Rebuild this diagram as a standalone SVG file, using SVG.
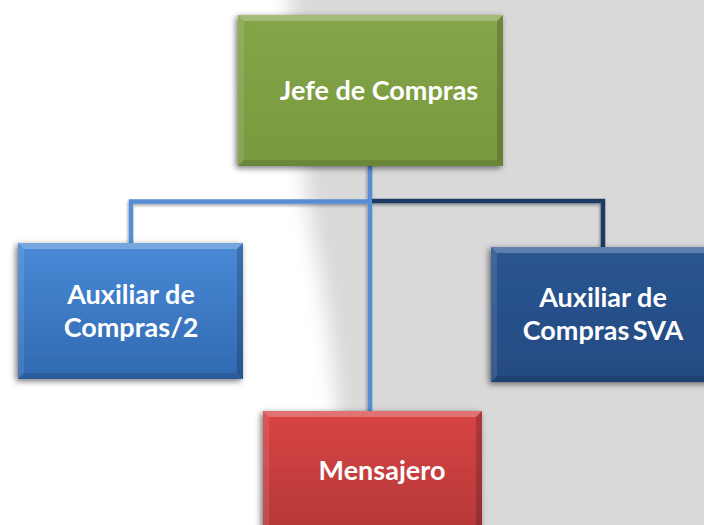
<svg xmlns="http://www.w3.org/2000/svg" width="704" height="525" viewBox="0 0 704 525">
<defs>
<filter id="bgblur" x="-20%" y="-20%" width="140%" height="140%"><feGaussianBlur stdDeviation="10"/></filter>
<filter id="shadow" x="-20%" y="-20%" width="140%" height="140%"><feDropShadow dx="-2" dy="2" stdDeviation="3" flood-color="#000" flood-opacity="0.55"/></filter>
<filter id="lshadow" x="-20%" y="-20%" width="140%" height="140%"><feDropShadow dx="-1" dy="2" stdDeviation="1.5" flood-color="#000" flood-opacity="0.35"/></filter>
<linearGradient id="gGreen" x1="0" y1="0" x2="0" y2="1"><stop offset="0" stop-color="#85a548"/><stop offset="1" stop-color="#79993f"/></linearGradient>
<linearGradient id="gBlue" x1="0" y1="0" x2="0" y2="1"><stop offset="0" stop-color="#4a8ad7"/><stop offset="1" stop-color="#3069b1"/></linearGradient>
<linearGradient id="gNavy" x1="0" y1="0" x2="0" y2="1"><stop offset="0" stop-color="#2a5590"/><stop offset="1" stop-color="#244b82"/></linearGradient>
<linearGradient id="gRed" x1="0" y1="0" x2="0" y2="1"><stop offset="0" stop-color="#d84444"/><stop offset="1" stop-color="#b33737"/></linearGradient>
</defs>
<style>
.lbl{font-family:Lato,"Open Sans","Liberation Sans",sans-serif;font-weight:700;font-size:27px;fill:#fff;text-anchor:middle}
.hl{fill:#fff;opacity:0.25}
.hl2{fill:#fff;opacity:0.1}
.dk{fill:#000;opacity:0.18}
.dk2{fill:#000;opacity:0.12}
.c{fill:none;stroke-width:4.5;stroke-linecap:butt;stroke-linejoin:miter}
</style>
<rect x="0" y="0" width="704" height="525" fill="#ffffff"/>
<path d="M288,-30 C294,90 302,180 316,250 C326,300 334,360 338,420 L342,560 L740,560 L740,-30 Z" fill="#d9d9d9" filter="url(#bgblur)"/>

<g id="connectors" filter="url(#lshadow)">
<path class="c" stroke="#558ed5" d="M370,166 V411"/>
<path class="c" stroke="#558ed5" d="M370,201.5 H131 V243"/>
<path class="c" stroke="#1f3b63" d="M372,201 H603 V247"/>
</g>

<g id="jefe">
<rect x="238" y="15" width="265" height="151" fill="url(#gGreen)" filter="url(#shadow)"/>
<polygon class="hl" points="238,15 503,15 497,21 244,21"/>
<polygon class="hl2" points="238,15 244,21 244,160 238,166"/>
<polygon class="dk" points="503,15 503,166 497,160 497,21"/>
<polygon class="dk2" points="238,166 244,160 497,160 503,166"/>
<text class="lbl" x="379" y="100">Jefe de Compras</text>
</g>

<g id="aux2">
<rect x="18" y="243" width="225" height="136" fill="url(#gBlue)" filter="url(#shadow)"/>
<polygon class="hl" points="18,243 243,243 237,249 24,249"/>
<polygon class="hl2" points="18,243 24,249 24,373 18,379"/>
<polygon class="dk" points="243,243 243,379 237,373 237,249"/>
<polygon class="dk2" points="18,379 24,373 237,373 243,379"/>
<text class="lbl" x="131" y="304">Auxiliar de</text>
<text class="lbl" x="131" y="337">Compras/2</text>
</g>

<g id="auxsva">
<rect x="491" y="247" width="225" height="135" fill="url(#gNavy)" filter="url(#shadow)"/>
<polygon class="hl" points="491,247 716,247 710,253 497,253"/>
<polygon class="hl2" points="491,247 497,253 497,376 491,382"/>
<polygon class="dk2" points="491,382 497,376 710,376 716,382"/>
<text class="lbl" x="603" y="307">Auxiliar de</text>
<text class="lbl" x="603" y="340" style="word-spacing:-3px">Compras SVA</text>
</g>

<g id="mensajero">
<rect x="263" y="411" width="219" height="130" fill="url(#gRed)" filter="url(#shadow)"/>
<polygon class="hl" points="263,411 482,411 476,417 269,417"/>
<polygon class="hl2" points="263,411 269,417 269,541 263,541"/>
<polygon class="dk" points="482,411 482,541 476,541 476,417"/>
<text class="lbl" x="382" y="480">Mensajero</text>
</g>
</svg>
